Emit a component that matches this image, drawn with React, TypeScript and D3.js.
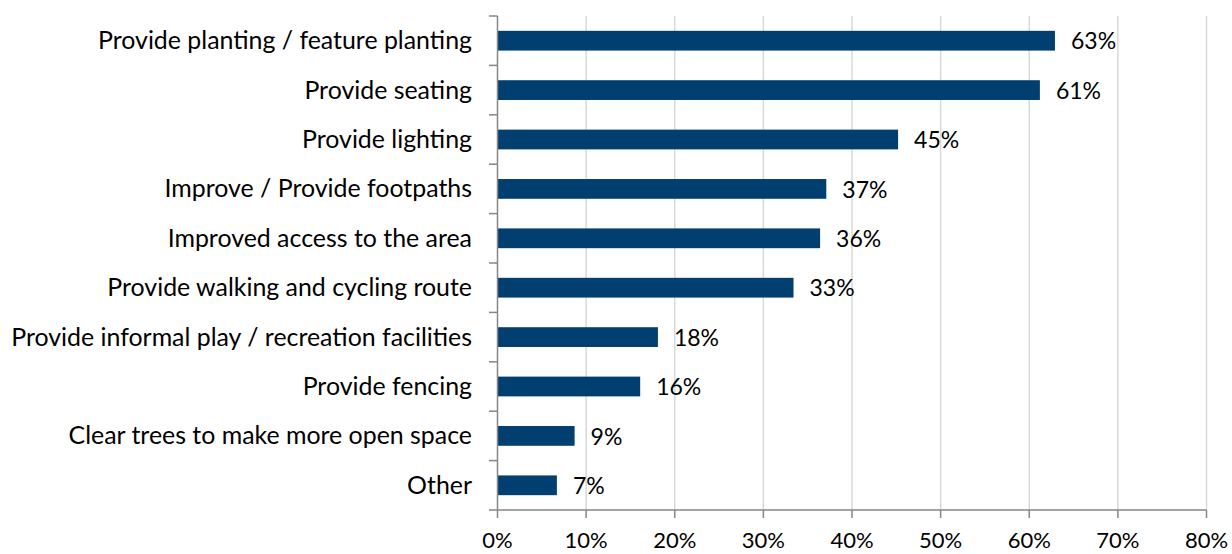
import React from "react";
import * as d3 from "d3";

const categories = [
  "Provide planting / feature planting",
  "Provide seating",
  "Provide lighting",
  "Improve / Provide footpaths",
  "Improved access to the area",
  "Provide walking and cycling route",
  "Provide informal play / recreation facilities",
  "Provide fencing",
  "Clear trees to make more open space",
  "Other",
];
const values = [62.9, 61.2, 45.2, 37.1, 36.4, 33.4, 18.1, 16.1, 8.7, 6.7];
const xTicks = [0, 10, 20, 30, 40, 50, 60, 70, 80];

const W = 1232;
const H = 554;
const left = 497.5;
const right = 1206.5;
const top = 16;
const bottom = 510;
const font = "Lato, 'Open Sans', sans-serif";

export default function App() {
  const x = d3.scaleLinear().domain([0, 80]).range([left, right]);
  const y = d3.scaleBand<string>().domain(categories).range([top, bottom]).paddingInner(0.6).paddingOuter(0.3);
  const step = (bottom - top) / categories.length;
  const boundaries = d3.range(categories.length + 1).map((i) => top + i * step);
  return (
    <svg width={W} height={H} style={{ position: "absolute", left: 0, top: 0 }} fontFamily={font}>
      <rect width={W} height={H} fill="#fff" />
      {xTicks.slice(1).map((t) => (
        <line key={"g" + t} x1={x(t)} x2={x(t)} y1={top} y2={bottom} stroke="#D9D9D9" strokeWidth={1.5} />
      ))}
      {categories.map((c, i) => (
        <g key={c}>
          <rect x={x(0)} y={y(c)} width={x(values[i]) - x(0)} height={y.bandwidth()} fill="#003F6F" />
          <text x={x(values[i]) + 16} y={(y(c) as number) + y.bandwidth() / 2} dy="0.38em" fontSize={23} fill="#000">
            {Math.round(values[i])}%
          </text>
          <text x={472} y={(y(c) as number) + y.bandwidth() / 2} dy="0.34em" fontSize={24.9} textAnchor="end" fill="#000">
            {c}
          </text>
        </g>
      ))}
      <line x1={left} x2={left} y1={top} y2={bottom} stroke="#868686" strokeWidth={1.5} />
      {boundaries.map((b, i) => (
        <line key={"yt" + i} x1={489} x2={left} y1={b} y2={b} stroke="#868686" strokeWidth={1.5} />
      ))}
      <line x1={left} x2={right} y1={bottom} y2={bottom} stroke="#868686" strokeWidth={1.5} />
      {xTicks.map((t) => (
        <g key={"xt" + t}>
          <line x1={x(t)} x2={x(t)} y1={bottom} y2={518} stroke="#868686" strokeWidth={1.5} />
          <text x={Math.min(x(t), 1208)} y={540} dy="0.36em" fontSize={22} textAnchor="middle" fill="#000">
            {t}%
          </text>
        </g>
      ))}
    </svg>
  );
}
